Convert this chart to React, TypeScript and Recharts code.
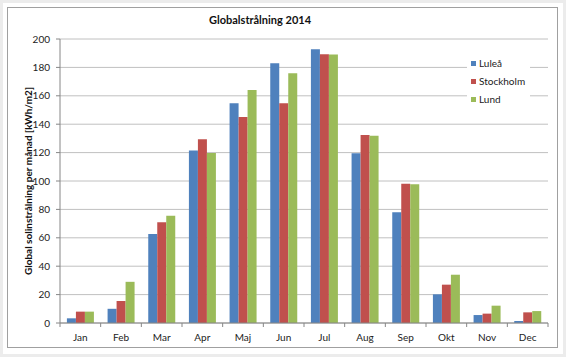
import React from "react";
import { BarChart, Bar, XAxis, YAxis, CartesianGrid } from "recharts";

const months = ["Jan", "Feb", "Mar", "Apr", "Maj", "Jun", "Jul", "Aug", "Sep", "Okt", "Nov", "Dec"];
const lulea = [3.3, 10, 62.7, 121.4, 154.7, 183, 192.7, 119.5, 78, 20.2, 5.6, 1.4];
const stockholm = [8, 15.5, 71, 129.4, 145, 154.7, 189.2, 132.4, 98.1, 27, 6.6, 7.5];
const lund = [8, 29, 75.6, 119.7, 164, 175.8, 189, 131.9, 97.7, 34, 12.2, 8.4];
const yTicks = [0, 20, 40, 60, 80, 100, 120, 140, 160, 180, 200];
const seriesNames = ["Luleå", "Stockholm", "Lund"];
const colors = ["#4F81BD", "#C0504D", "#9BBB59"];

const data = months.map((m, i) => ({
  month: m,
  "Luleå": lulea[i],
  Stockholm: stockholm[i],
  Lund: lund[i],
}));

const FONT = "Lato, 'Open Sans', sans-serif";
const W = 566;
const H = 357;
const PLOT_LEFT = 60;
const PLOT_RIGHT = 548;
const PLOT_BOTTOM = 323;
const BAND = (PLOT_RIGHT - PLOT_LEFT) / months.length;

const XTick = (props: any) => {
  const { x, payload, index } = props;
  const y = PLOT_BOTTOM;
  const last = index === months.length - 1;
  return (
    <g>
      <line x1={x - BAND / 2} y1={y} x2={x - BAND / 2} y2={y + 4} stroke="#868686" strokeWidth={1} />
      {last && <line x1={x + BAND / 2} y1={y} x2={x + BAND / 2} y2={y + 4} stroke="#868686" strokeWidth={1} />}
      <text x={x} y={y + 18} textAnchor="middle" fontSize={10} fill="#222" fontFamily={FONT}>
        {payload.value}
      </text>
    </g>
  );
};

export default function App() {
  return (
    <div style={{ position: "absolute", left: 0, top: 0, width: W, height: H, background: "#ececec", fontFamily: FONT }}>
      <div style={{ position: "absolute", left: 3, top: 3, width: W - 6, height: H - 6, background: "#fff" }} />
      <div style={{ position: "absolute", left: 7, top: 7, width: 551, height: 341, border: "1px solid #a0a0a0", boxSizing: "border-box" }} />
      <div style={{ position: "absolute", left: 0, top: 0 }}>
        <BarChart
          width={W}
          height={H}
          data={data}
          margin={{ top: 39, right: W - PLOT_RIGHT, bottom: 0, left: 0 }}
          barCategoryGap="17%"
          barGap={0}
        >
          <CartesianGrid vertical={false} stroke="#c0c0c0" />
          <XAxis
            dataKey="month"
            height={H - PLOT_BOTTOM}
            axisLine={{ stroke: "#868686" }}
            tickLine={false}
            tick={<XTick />}
            interval={0}
          />
          <YAxis
            width={PLOT_LEFT}
            domain={[0, 200]}
            ticks={yTicks}
            interval={0}
            axisLine={{ stroke: "#868686" }}
            tickLine={{ stroke: "#868686" }}
            tickSize={4}
            tickMargin={6}
            tick={{ fontSize: 10, fill: "#222", fontFamily: FONT }}
          />
          {seriesNames.map((s, i) => (
            <Bar key={s} dataKey={s} fill={colors[i]} isAnimationActive={false} />
          ))}
        </BarChart>
      </div>
      <div
        style={{
          position: "absolute",
          left: 0,
          top: 13,
          width: 520,
          textAlign: "center",
          fontSize: 11,
          fontWeight: 700,
          color: "#111",
        }}
      >
        Globalstrålning 2014
      </div>
      <div
        style={{
          position: "absolute",
          left: 28,
          top: 181,
          transform: "translate(-50%, -50%) rotate(-90deg)",
          whiteSpace: "nowrap",
          fontSize: 10,
          fontWeight: 700,
          color: "#111",
        }}
      >
        Global solinstrålning per månad [kWh/m2]
      </div>
      <div
        style={{
          position: "absolute",
          left: 467,
          top: 54,
          width: 63,
          height: 54,
          background: "#fff",
        }}
      >
        {seriesNames.map((s, i) => (
          <div
            key={s}
            style={{ position: "absolute", left: 4, top: 2 + i * 18, height: 14, display: "flex", alignItems: "center", fontSize: 10, color: "#222" }}
          >
            <span style={{ display: "inline-block", width: 5, height: 5, background: colors[i], marginRight: 3 }} />
            {s}
          </div>
        ))}
      </div>
    </div>
  );
}
